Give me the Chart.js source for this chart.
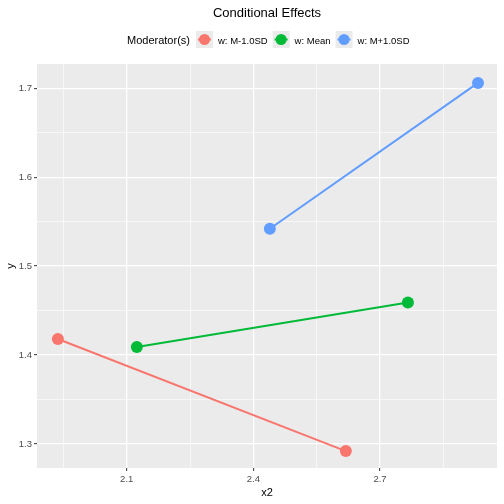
<!DOCTYPE html>
<html>
<head>
<meta charset="utf-8">
<script src="https://cdn.jsdelivr.net/npm/chart.js@4/dist/chart.umd.min.js"></script>
<style>
  body { margin: 0; background: #fff; }
  #wrap { width: 504px; height: 504px; }
</style>
</head>
<body>
<div id="wrap"><canvas id="effects" width="504" height="504"></canvas></div>
<script>
  const groupLabels = ['w: M-1.0SD', 'w: Mean', 'w: M+1.0SD'];
  const groupColors = ['#F8766D', '#00BA38', '#619CFF'];
  const lowX = [1.937, 2.619];
  const lowY = [1.418, 1.292];
  const meanX = [2.124, 2.766];
  const meanY = [1.409, 1.459];
  const highX = [2.439, 2.932];
  const highY = [1.542, 1.706];
  const xTicks = [1.95, 2.1, 2.25, 2.4, 2.55, 2.7, 2.85];
  const xMajor = [2.1, 2.4, 2.7];
  const yTicks = [1.3, 1.35, 1.4, 1.45, 1.5, 1.55, 1.6, 1.65, 1.7];
  const yMajor = [1.3, 1.4, 1.5, 1.6, 1.7];

  const FONT = 'Liberation Sans, Arial, sans-serif';
  const isMajor = (list, v) => list.some(m => Math.abs(m - v) < 1e-6);
  const toPts = (xs, ys) => xs.map((x, i) => ({ x: x, y: ys[i] }));

  const panelBg = {
    id: 'panelBg',
    beforeDraw(chart) {
      const a = chart.chartArea, ctx = chart.ctx;
      ctx.save();
      ctx.fillStyle = '#EBEBEB';
      ctx.fillRect(a.left, a.top, a.right - a.left, a.bottom - a.top);
      ctx.restore();
    }
  };

  // ggplot-style header: title + legend row with "Moderator(s)" label
  const header = {
    id: 'header',
    afterDraw(chart) {
      const ctx = chart.ctx;
      ctx.save();
      ctx.fillStyle = '#000';
      ctx.font = '13px ' + FONT;
      ctx.textAlign = 'center';
      ctx.textBaseline = 'middle';
      ctx.fillText('Conditional Effects', 267, 13);

      ctx.textAlign = 'left';
      ctx.font = '11px ' + FONT;
      ctx.fillText('Moderator(s)', 127, 41);
      let x = 196;
      ctx.font = '9.5px ' + FONT;
      chart.data.datasets.forEach(ds => {
        ctx.fillStyle = '#EBEBEB';
        ctx.fillRect(x, 31, 17, 17);
        ctx.fillStyle = ds.borderColor;
        ctx.fillRect(x + 2, 38.5, 13, 2);
        ctx.beginPath();
        ctx.arc(x + 8.5, 39.5, 5.5, 0, Math.PI * 2);
        ctx.fill();
        ctx.fillStyle = '#000';
        ctx.fillText(ds.label, x + 22, 41);
        x += 22 + ctx.measureText(ds.label).width + 5;
      });
      ctx.restore();
    }
  };

  const makeSet = (i, xs, ys) => ({
    label: groupLabels[i],
    data: toPts(xs, ys),
    showLine: true,
    borderColor: groupColors[i],
    backgroundColor: groupColors[i],
    borderWidth: 2,
    pointRadius: 6,
    pointHoverRadius: 6,
    pointBorderWidth: 0
  });

  new Chart(document.getElementById('effects'), {
    type: 'scatter',
    data: {
      datasets: [
        makeSet(0, lowX, lowY),
        makeSet(1, meanX, meanY),
        makeSet(2, highX, highY)
      ]
    },
    plugins: [panelBg, header],
    options: {
      responsive: false,
      animation: false,
      layout: { padding: { top: 64, right: 7, left: 0, bottom: 0 } },
      plugins: {
        legend: { display: false },
        title: { display: false },
        tooltip: { enabled: false }
      },
      scales: {
        x: {
          type: 'linear',
          min: 1.8875,
          max: 2.977,
          afterBuildTicks: s => { s.ticks = xTicks.map(v => ({ value: v })); },
          afterFit: s => { s.height = 36; },
          border: { display: false },
          grid: {
            color: '#FFFFFF',
            lineWidth: c => isMajor(xMajor, c.tick.value) ? 1.3 : 0.6,
            tickColor: c => isMajor(xMajor, c.tick.value) ? '#333333' : 'rgba(0,0,0,0)',
            tickLength: 3,
            tickWidth: 1
          },
          ticks: {
            autoSkip: false,
            maxRotation: 0,
            padding: 3,
            color: '#4D4D4D',
            font: { family: FONT, size: 9.5 },
            callback: v => isMajor(xMajor, v) ? v.toFixed(1) : ''
          },
          title: {
            display: true,
            text: 'x2',
            color: '#000',
            font: { family: FONT, size: 11 },
            padding: { top: 2, bottom: 4 }
          }
        },
        y: {
          type: 'linear',
          min: 1.273,
          max: 1.7273,
          afterBuildTicks: s => { s.ticks = yTicks.map(v => ({ value: v })); },
          afterFit: s => { s.width = 37; },
          border: { display: false },
          grid: {
            color: '#FFFFFF',
            lineWidth: c => isMajor(yMajor, c.tick.value) ? 1.3 : 0.6,
            tickColor: c => isMajor(yMajor, c.tick.value) ? '#333333' : 'rgba(0,0,0,0)',
            tickLength: 3,
            tickWidth: 1
          },
          ticks: {
            autoSkip: false,
            padding: 2,
            color: '#4D4D4D',
            font: { family: FONT, size: 9.5 },
            callback: v => isMajor(yMajor, v) ? v.toFixed(1) : ''
          },
          title: {
            display: true,
            text: 'y',
            color: '#000',
            font: { family: FONT, size: 11 },
            padding: { top: 4, bottom: 2 }
          }
        }
      }
    }
  });
</script>
</body>
</html>
